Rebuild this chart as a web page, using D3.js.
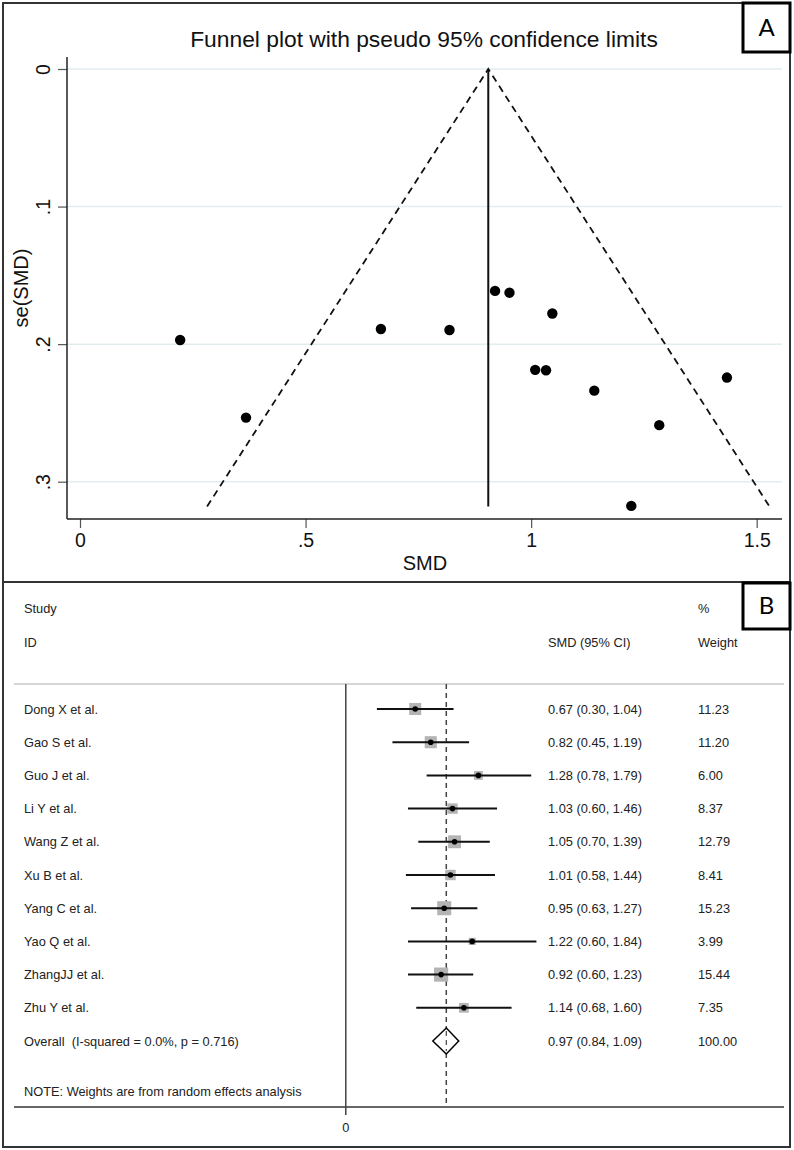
<!DOCTYPE html>
<html>
<head>
<meta charset="utf-8">
<script src="https://d3js.org/d3.v7.min.js"></script>
<style>
  body { margin: 0; background: #fff; }
  text { font-family: "Liberation Sans", Arial, sans-serif; }
</style>
</head>
<body>
<svg width="794" height="1150"></svg>
<script>
// ---- panel A data (funnel) ----
var funnelSMD = [0.222, 0.368, 0.667, 0.819, 0.920, 0.952, 1.047, 1.009, 1.033, 1.140, 1.284, 1.434, 1.222];
var funnelSE  = [0.197, 0.2534, 0.189, 0.1897, 0.1613, 0.1626, 0.1777, 0.2187, 0.2190, 0.2338, 0.2589, 0.2243, 0.3176];
var pooledSMD = 0.905;
var maxSE = 0.318;
var funnelXTicks = [0, 0.5, 1, 1.5];
var funnelYTicks = [0, 0.1, 0.2, 0.3];

// ---- panel B data (forest) ----
var studies = ["Dong X et al.", "Gao S et al.", "Guo J et al.", "Li Y et al.", "Wang Z et al.",
               "Xu B et al.", "Yang C et al.", "Yao Q et al.", "ZhangJJ et al.", "Zhu Y et al."];
var est   = [0.67, 0.82, 1.28, 1.03, 1.05, 1.01, 0.95, 1.22, 0.92, 1.14];
var lower = [0.30, 0.45, 0.78, 0.60, 0.70, 0.58, 0.63, 0.60, 0.60, 0.68];
var upper = [1.04, 1.19, 1.79, 1.46, 1.39, 1.44, 1.27, 1.84, 1.23, 1.60];
var weight = [11.23, 11.20, 6.00, 8.37, 12.79, 8.41, 15.23, 3.99, 15.44, 7.35];
var overall = {est: 0.97, lower: 0.84, upper: 1.09, weight: 100.00,
               label: "Overall  (I-squared = 0.0%, p = 0.716)"};

var svg = d3.select("svg");

// frames
svg.append("rect").attr("x", 3).attr("y", 3).attr("width", 787).attr("height", 1144)
    .attr("fill", "none").attr("stroke", "#333").attr("stroke-width", 2);
svg.append("line").attr("x1", 3).attr("x2", 790).attr("y1", 582).attr("y2", 582)
    .attr("stroke", "#333").attr("stroke-width", 2);

function tagBox(y0, y1, label) {
  svg.append("rect").attr("x", 743).attr("y", y0).attr("width", 47).attr("height", y1 - y0)
      .attr("fill", "#fff").attr("stroke", "#000").attr("stroke-width", 3);
  svg.append("text").attr("x", 766.5).attr("y", (y0 + y1) / 2 + 8)
      .attr("text-anchor", "middle").attr("font-size", 24)
      .style("font-family", "Lato, 'Open Sans', sans-serif")
      .text(label);
}

// ================= Panel A =================
var x = d3.scaleLinear().domain([0, 1.5]).range([80, 756.7]);
var y = d3.scaleLinear().domain([0, 0.3]).range([69, 481.7]);
var plotLeft = 67, plotRight = 782, plotTop = 57, plotBottom = 519;
var axisFont = 19.5;

var gA = svg.append("g");

// gridlines
gA.selectAll("line.grid").data(funnelYTicks).enter().append("line")
    .attr("x1", plotLeft).attr("x2", plotRight)
    .attr("y1", function(d) { return y(d); }).attr("y2", function(d) { return y(d); })
    .attr("stroke", "#e2edf0").attr("stroke-width", 1.5);

// axes
var yAxis = d3.axisLeft(y).tickValues(funnelYTicks).tickSize(9).tickPadding(8)
    .tickFormat(function(d) { return d === 0 ? "0" : d3.format(".1f")(d).replace(/^0/, ""); });
var gy = gA.append("g").attr("transform", "translate(" + plotLeft + ",0)").call(yAxis);
gy.select(".domain").remove();
gy.selectAll(".tick line").attr("stroke", "#555").attr("stroke-width", 1.2);
gy.selectAll(".tick text")
    .attr("font-size", axisFont).attr("fill", "#111")
    .attr("text-anchor", "middle")
    .attr("transform", "rotate(-90)")
    .attr("x", 0).attr("y", -24).attr("dy", "0.35em");
gA.append("line").attr("x1", plotLeft).attr("x2", plotLeft).attr("y1", plotTop).attr("y2", plotBottom)
    .attr("stroke", "#222").attr("stroke-width", 1.5);

var xAxis = d3.axisBottom(x).tickValues(funnelXTicks).tickSize(9).tickPadding(5)
    .tickFormat(function(d) { return d === 0 ? "0" : (d === 1 ? "1" : d3.format(".1f")(d).replace(/^0/, "")); });
var gx = gA.append("g").attr("transform", "translate(0," + plotBottom + ")").call(xAxis);
gx.select(".domain").remove();
gx.selectAll(".tick line").attr("stroke", "#555").attr("stroke-width", 1.2);
gx.selectAll(".tick text").attr("font-size", axisFont).attr("fill", "#111");
gA.append("line").attr("x1", plotLeft).attr("x2", plotRight).attr("y1", plotBottom).attr("y2", plotBottom)
    .attr("stroke", "#222").attr("stroke-width", 1.5);

// titles
gA.append("text").attr("x", 424).attr("y", 47).attr("text-anchor", "middle")
    .attr("font-size", 22.8).attr("fill", "#111")
    .text("Funnel plot with pseudo 95% confidence limits");
gA.append("text").attr("x", 425).attr("y", 570).attr("text-anchor", "middle")
    .attr("font-size", 20).attr("fill", "#111").text("SMD");
gA.append("text").attr("transform", "translate(28,288) rotate(-90)").attr("text-anchor", "middle")
    .attr("font-size", 20).attr("fill", "#111").text("se(SMD)");

// pseudo CI lines
var seLine = d3.line().x(function(d) { return x(d[0]); }).y(function(d) { return y(d[1]); });
gA.append("path")
    .datum([[pooledSMD - 1.96 * maxSE, maxSE], [pooledSMD, 0], [pooledSMD + 1.96 * maxSE, maxSE]])
    .attr("d", seLine).attr("fill", "none").attr("stroke", "#111")
    .attr("stroke-width", 1.8).attr("stroke-dasharray", "7,5");
gA.append("line")
    .attr("x1", x(pooledSMD)).attr("x2", x(pooledSMD))
    .attr("y1", y(0)).attr("y2", y(maxSE))
    .attr("stroke", "#111").attr("stroke-width", 2);

// points
gA.selectAll("circle.pt").data(funnelSMD).enter().append("circle")
    .attr("cx", function(d) { return x(d); })
    .attr("cy", function(d, i) { return y(funnelSE[i]); })
    .attr("r", 5.2).attr("fill", "#000");

tagBox(3, 52, "A");

// ================= Panel B =================
var fx = d3.scaleLinear().domain([0, 1]).range([345.8, 449.4]);
var rowY = d3.scaleLinear().domain([0, 1]).range([709, 742.2]);
var gB = svg.append("g");
var fs = 12.8;

gB.append("text").attr("x", 24).attr("y", 613).attr("font-size", fs).attr("fill", "#222").text("Study");
gB.append("text").attr("x", 24).attr("y", 647).attr("font-size", fs).attr("fill", "#222").text("ID");
gB.append("text").attr("x", 548).attr("y", 647).attr("font-size", fs).attr("fill", "#222").text("SMD (95% CI)");
gB.append("text").attr("x", 698).attr("y", 613).attr("font-size", fs).attr("fill", "#222").text("%");
gB.append("text").attr("x", 698).attr("y", 647).attr("font-size", fs).attr("fill", "#222").text("Weight");

gB.append("line").attr("x1", 14).attr("x2", 784).attr("y1", 684).attr("y2", 684)
    .attr("stroke", "#c8c8c8").attr("stroke-width", 1.5);
gB.append("line").attr("x1", 14).attr("x2", 784).attr("y1", 1107).attr("y2", 1107)
    .attr("stroke", "#333").attr("stroke-width", 1.5);

// null line and overall dashed line
gB.append("line").attr("x1", fx(0)).attr("x2", fx(0)).attr("y1", 684).attr("y2", 1115)
    .attr("stroke", "#444").attr("stroke-width", 1.5);
gB.append("text").attr("x", fx(0)).attr("y", 1132).attr("text-anchor", "middle")
    .attr("font-size", fs).attr("fill", "#222").text("0");
gB.append("line").attr("x1", fx(overall.est)).attr("x2", fx(overall.est)).attr("y1", 684).attr("y2", 1107)
    .attr("stroke", "#444").attr("stroke-width", 1.5).attr("stroke-dasharray", "5,4");

var rows = gB.selectAll("g.row").data(studies).enter().append("g")
    .attr("transform", function(d, i) { return "translate(0," + rowY(i) + ")"; });

rows.append("rect")
    .attr("x", function(d, i) { return fx(est[i]) - 1.8 * Math.sqrt(weight[i]); })
    .attr("y", function(d, i) { return -1.8 * Math.sqrt(weight[i]); })
    .attr("width", function(d, i) { return 3.6 * Math.sqrt(weight[i]); })
    .attr("height", function(d, i) { return 3.6 * Math.sqrt(weight[i]); })
    .attr("fill", "#b4b4b4");
rows.append("line")
    .attr("x1", function(d, i) { return fx(lower[i]); })
    .attr("x2", function(d, i) { return fx(upper[i]); })
    .attr("stroke", "#111").attr("stroke-width", 2);
rows.append("circle")
    .attr("cx", function(d, i) { return fx(est[i]); })
    .attr("r", 2.8).attr("fill", "#000");
rows.append("text").attr("x", 24).attr("y", 4.5).attr("font-size", fs).attr("fill", "#222")
    .text(function(d) { return d; });
rows.append("text").attr("x", 548).attr("y", 4.5).attr("font-size", fs).attr("fill", "#222")
    .text(function(d, i) { return est[i].toFixed(2) + " (" + lower[i].toFixed(2) + ", " + upper[i].toFixed(2) + ")"; });
rows.append("text").attr("x", 698).attr("y", 4.5).attr("font-size", fs).attr("fill", "#222")
    .text(function(d, i) { return weight[i].toFixed(2); });

// overall
var oy = rowY(studies.length);
gB.append("path")
    .attr("d", "M" + fx(overall.lower) + "," + oy + "L" + fx(overall.est) + "," + (oy - 13) +
               "L" + fx(overall.upper) + "," + oy + "L" + fx(overall.est) + "," + (oy + 13) + "Z")
    .attr("fill", "#fff").attr("stroke", "#000").attr("stroke-width", 1.5);
gB.append("line").attr("x1", fx(overall.est)).attr("x2", fx(overall.est))
    .attr("y1", oy - 10).attr("y2", oy + 10)
    .attr("stroke", "#444").attr("stroke-width", 1.2).attr("stroke-dasharray", "5,4");
gB.append("text").attr("x", 24).attr("y", oy + 4.5).attr("font-size", fs).attr("fill", "#222")
    .attr("xml:space", "preserve").style("white-space", "pre").text(overall.label);
gB.append("text").attr("x", 548).attr("y", oy + 4.5).attr("font-size", fs).attr("fill", "#222")
    .text(overall.est.toFixed(2) + " (" + overall.lower.toFixed(2) + ", " + overall.upper.toFixed(2) + ")");
gB.append("text").attr("x", 698).attr("y", oy + 4.5).attr("font-size", fs).attr("fill", "#222")
    .text(overall.weight.toFixed(2));

gB.append("text").attr("x", 24).attr("y", 1096).attr("font-size", fs).attr("fill", "#222")
    .text("NOTE: Weights are from random effects analysis");

tagBox(583, 629, "B");
</script>
</body>
</html>
